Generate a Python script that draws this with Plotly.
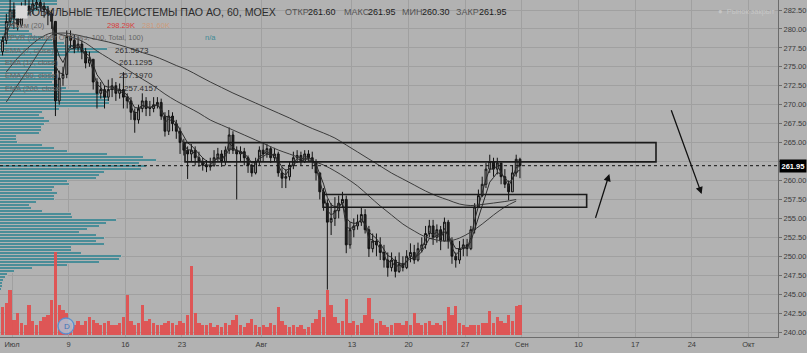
import plotly.graph_objects as go

# ---------------- data ----------------
trade_days = ["2018-06-29",
              "2018-07-02", "2018-07-03", "2018-07-04", "2018-07-05", "2018-07-06",
              "2018-07-09", "2018-07-10", "2018-07-11", "2018-07-12", "2018-07-13",
              "2018-07-16", "2018-07-17", "2018-07-18", "2018-07-19", "2018-07-20",
              "2018-07-23", "2018-07-24", "2018-07-25", "2018-07-26", "2018-07-27",
              "2018-07-30", "2018-07-31", "2018-08-01", "2018-08-02", "2018-08-03",
              "2018-08-06", "2018-08-07", "2018-08-08", "2018-08-09", "2018-08-10",
              "2018-08-13", "2018-08-14", "2018-08-15", "2018-08-16", "2018-08-17",
              "2018-08-20", "2018-08-21", "2018-08-22", "2018-08-23", "2018-08-24",
              "2018-08-27", "2018-08-28", "2018-08-29", "2018-08-30", "2018-08-31"]
bars_per_day = 3

opens = [277.0, 278.5, 281.0, 282.5, 281.5, 280.5, 282.0, 283.0, 282.5, 283.3, 283.5, 283.0,
         282.5, 282.0, 281.0, 270.5, 273.5, 274.0, 279.0, 278.5, 277.5, 278.0, 277.0, 275.5,
         276.0, 273.0, 271.5, 272.0, 271.0, 272.0, 272.5, 271.5, 272.0, 271.0, 270.5, 269.0,
         268.0, 269.5, 270.5, 269.5, 269.5, 270.0, 270.3, 268.5, 266.5, 268.5, 267.5, 266.5,
         265.0, 264.0, 263.5, 264.0, 263.0, 262.5, 262.0, 261.8, 262.0, 263.0, 263.5, 262.5,
         264.0, 266.0, 264.0, 263.5, 263.8, 263.0, 262.0, 261.0, 262.5, 264.0, 263.5, 264.2,
         263.0, 263.5, 261.0, 260.3, 260.5, 262.0, 263.0, 263.3, 262.5, 263.5, 263.0, 262.5,
         261.0, 258.5, 257.0, 254.5, 255.0, 256.0, 257.0, 257.5, 251.5, 253.5, 254.0, 254.5,
         255.5, 253.5, 251.0, 252.0, 251.5, 250.5, 249.5, 248.5, 249.5, 248.0, 249.0, 248.5,
         250.0, 250.5, 249.5, 251.0, 251.5, 253.0, 254.0, 252.5, 253.5, 252.0, 254.5, 252.0,
         250.0, 249.5, 251.0, 251.5, 251.0, 253.5, 256.5, 258.0, 259.5, 261.5, 262.5, 261.5,
         262.3, 260.5, 259.5, 258.5, 261.0, 262.8]
highs = [279.0, 282.0, 284.5, 283.5, 282.5, 283.5, 284.5, 283.8, 284.5, 284.5, 284.0, 283.5,
         283.0, 282.5, 281.0, 274.5, 275.0, 279.8, 279.8, 279.2, 279.0, 278.5, 277.5, 277.0,
         276.0, 273.5, 273.0, 272.5, 273.3, 273.5, 273.0, 272.8, 274.3, 271.5, 271.0, 269.5,
         270.0, 271.5, 271.0, 270.5, 271.0, 271.0, 270.8, 269.0, 269.3, 269.0, 268.0, 267.0,
         265.5, 264.5, 264.8, 264.5, 263.8, 263.0, 262.7, 263.0, 264.0, 264.3, 264.0, 264.5,
         267.0, 266.5, 264.5, 264.5, 264.3, 263.3, 262.2, 263.0, 264.5, 264.8, 264.8, 264.5,
         264.3, 263.8, 261.8, 261.5, 262.5, 263.8, 264.0, 263.8, 264.0, 264.0, 263.8, 262.8,
         261.0, 259.0, 257.5, 257.0, 257.8, 258.0, 258.5, 258.0, 254.5, 255.0, 255.5, 256.5,
         256.2, 254.0, 253.0, 253.0, 252.5, 251.5, 250.5, 250.5, 250.0, 250.5, 250.0, 250.8,
         251.7, 251.5, 251.8, 252.5, 254.0, 254.8, 254.8, 254.2, 254.0, 255.1, 254.8, 252.5,
         250.5, 252.0, 252.3, 252.3, 254.0, 257.0, 258.8, 260.5, 262.3, 263.4, 263.0, 263.0,
         262.3, 261.5, 260.0, 262.0, 263.4, 263.0]
lows = [276.5, 278.0, 280.5, 280.0, 279.8, 280.3, 281.5, 281.8, 282.0, 282.5, 282.3, 281.5,
        280.5, 280.0, 268.5, 270.0, 272.5, 273.5, 277.5, 276.8, 277.0, 276.0, 274.8, 275.0,
        272.0, 269.5, 270.8, 269.5, 270.5, 271.0, 270.5, 270.8, 269.5, 269.5, 268.0, 266.3,
        267.5, 269.0, 268.5, 268.5, 269.0, 269.5, 268.0, 265.8, 266.0, 266.5, 265.5, 263.5,
        263.3, 260.2, 262.5, 262.0, 261.8, 261.3, 261.1, 261.3, 261.8, 262.5, 261.8, 262.0,
        263.5, 263.5, 257.5, 262.5, 262.0, 261.0, 260.5, 260.8, 262.0, 262.5, 263.0, 262.3,
        262.5, 260.5, 259.0, 259.0, 260.0, 261.5, 262.3, 262.0, 262.3, 262.5, 261.5, 260.0,
        257.5, 256.0, 245.6, 252.8, 254.0, 255.0, 256.5, 250.4, 251.0, 252.5, 253.5, 254.0,
        253.0, 249.9, 250.5, 250.0, 249.5, 248.5, 247.3, 248.0, 247.2, 247.8, 248.0, 248.3,
        249.2, 249.0, 249.3, 250.5, 251.0, 252.5, 251.5, 251.8, 250.8, 252.0, 251.0, 249.0,
        248.5, 249.0, 250.0, 250.0, 250.8, 253.0, 256.5, 257.8, 259.0, 261.0, 260.5, 260.8,
        259.5, 259.0, 257.4, 258.5, 260.5, 260.3]
closes = [278.5, 281.0, 282.5, 281.5, 280.5, 282.0, 283.0, 282.5, 283.3, 283.5, 283.0, 282.5,
          282.0, 281.0, 270.5, 273.5, 274.0, 279.0, 278.5, 277.5, 278.0, 277.0, 275.5, 276.0,
          273.0, 271.5, 272.0, 271.0, 272.0, 272.5, 271.5, 272.0, 271.0, 270.5, 269.0, 268.0,
          269.5, 270.5, 269.5, 269.5, 270.0, 270.3, 268.5, 266.5, 268.5, 267.5, 266.5, 265.0,
          264.0, 263.5, 264.0, 263.0, 262.5, 262.0, 261.8, 262.0, 263.0, 263.5, 262.5, 264.0,
          266.0, 264.0, 263.5, 263.8, 263.0, 262.0, 261.0, 262.5, 264.0, 263.5, 264.2, 263.0,
          263.5, 261.0, 260.3, 260.5, 262.0, 263.0, 263.3, 262.5, 263.5, 263.0, 262.5, 261.0,
          258.5, 257.0, 254.5, 255.0, 256.0, 257.0, 257.5, 251.5, 253.5, 254.0, 254.5, 255.5,
          253.5, 251.0, 252.0, 251.5, 250.5, 249.5, 248.5, 249.5, 248.0, 249.0, 248.5, 250.0,
          250.5, 249.5, 251.0, 251.5, 253.0, 254.0, 252.5, 253.5, 252.0, 254.5, 252.0, 250.0,
          249.5, 251.0, 251.5, 251.0, 253.5, 256.5, 258.0, 259.5, 261.5, 262.5, 261.5, 262.3,
          260.5, 259.5, 258.5, 261.0, 262.8, 261.95]
volumes_k = [280, 320, 450, 150, 220, 120, 100, 300, 140, 100, 140, 180,
             200, 350, 830, 300, 250, 220, 120, 100, 140, 100, 140, 180,
             150, 120, 100, 120, 140, 100, 100, 120, 180, 400, 140, 100,
             120, 300, 140, 160, 120, 100, 100, 120, 140, 120, 100, 140,
             120, 200, 690, 220, 120, 100, 100, 120, 80, 100, 80, 120,
             100, 150, 200, 100, 80, 120, 160, 100, 80, 100, 80, 120,
             100, 280, 140, 100, 80, 100, 80, 100, 60, 80, 120, 160,
             250, 180, 450, 300, 180, 120, 140, 360, 120, 140, 100, 120,
             200, 370, 160, 120, 140, 100, 80, 100, 120, 120, 100, 140,
             100, 220, 120, 100, 120, 140, 100, 120, 100, 140, 280, 200,
             290, 120, 100, 80, 100, 100, 100, 120, 120, 240, 120, 180,
             140, 120, 200, 140, 290, 300]
# slow EMAs, one reading per trading day (middle of the day)
ema80_daily = [274.32, 276.16, 277.62, 278.8, 279.46, 279.2, 278.8, 278.14, 277.09, 276.16,
               275.24, 274.32, 273.39, 272.47, 271.41, 270.49, 269.7, 268.9, 267.98, 267.32,
               266.66, 266.0, 265.34, 264.68, 264.02, 263.49, 262.96, 262.57, 262.04, 261.25,
               260.32, 259.27, 257.95, 256.63, 255.44, 254.25, 253.33, 252.54, 252.14, 252.01,
               252.4, 253.2, 254.25, 255.44, 256.5, 257.29]
ema200_daily = [270.36, 272.6, 274.84, 277.22, 279.2, 279.46, 279.27, 278.94, 278.61, 278.28,
                277.88, 277.42, 276.89, 276.43, 275.83, 275.17, 274.58, 273.79, 273.0, 272.27,
                271.54, 270.88, 270.22, 269.56, 268.9, 268.24, 267.52, 266.86, 266.26, 265.6,
                264.68, 263.76, 262.83, 261.91, 260.98, 260.19, 259.4, 258.61, 257.95, 257.42,
                256.89, 256.69, 256.83, 257.02, 257.22, 257.49]
# volume profile (VPVR), rows from the top price downwards
profile_top = 283.82
profile_step = 0.396
profile_rows = [58, 58, 50, 40, 30, 25, 20, 15, 15, 20,
                30, 33, 45, 53, 65, 77, 108, 100, 67, 55,
                55, 57, 55, 55, 53, 55, 55, 53, 60, 67,
                80, 100, 108, 110, 110, 105, 60, 43, 40, 45,
                50, 45, 42, 42, 40, 17, 17, 18, 43, 55,
                68, 108, 144, 157, 140, 147, 142, 105, 100, 97,
                68, 70, 55, 53, 58, 55, 55, 37, 30, 32,
                43, 72, 73, 117, 107, 100, 88, 80, 97, 105,
                97, 105, 72, 72, 82, 122, 120, 100, 68, 33,
                15, 8, 6, 4, 3, 3, 2]
# x-axis ticks (trading-day index, 0 = 2 Jul)
tick_days = [0, 5, 10, 15, 22, 30, 35, 40, 45, 50, 55, 60, 65]
tick_labels = ["Июл", "9", "16", "23", "Авг", "13", "20", "27", "Сен", "10", "17", "24", "Окт"]
# price ticks (262.50 sits under the last-price tag)
price_ticks = [240.0, 242.5, 245.0, 247.5, 250.0, 252.5, 255.0, 257.5, 260.0, 262.5,
               265.0, 267.5, 270.0, 272.5, 275.0, 277.5, 280.0, 282.5]
# user drawings: (day0, day1, price_low, price_high)
zones = [(15.27, 56.84, 262.45, 265.0), (27.45, 50.72, 256.46, 258.15)]
# arrows: (tail_day, tail_price, head_day, head_price)
arrows = [(51.46, 254.87, 52.72, 260.85), (58.14, 269.47, 60.87, 258.2)]
last_price = 261.95
ema_legend = [("EMA (7, close)", "261.5673"), ("EMA (14, close)", "261.1295"),
              ("EMA (80, close)", "257.1970"), ("EMA (200, close)", "257.4157")]

# ---------------- derived ----------------
first_day = -1
bar_x = [first_day + j // bars_per_day + (j % bars_per_day + 0.5) / bars_per_day
         for j in range(len(closes))]
day_x = [first_day + i + 0.5 for i in range(len(trade_days))]


def ema(vals, period_hours):
    a_h = 2.0 / (period_hours + 1)
    a = 1 - (1 - a_h) ** (9 / bars_per_day)
    out, e = [], vals[0]
    for v in vals:
        e = a * v + (1 - a) * e
        out.append(e)
    return out


ema7 = ema(closes, 7)
ema14 = ema(closes, 14)
prof_y = [profile_top - profile_step * (k + 0.5) for k in range(len(profile_rows))]
price_ticktext = ["" if abs(t - last_price) < 1.0 else f"{t:.2f}" for t in price_ticks]

# ---------------- style ----------------
BG = "#b2b2b2"
GRID = "#a0a0a0"
AX = "#6c6c6c"
TXT = "#3a3a3a"
FONT = "Liberation Sans, Arial, sans-serif"
W, H = 778.0, 337.0
X0, X1 = -12 / 11.33, (778 - 12) / 11.33
Y0, Y1 = 239.34, 283.82


def px(x):
    return x / W


def py(y):
    return 1 - y / H


fig = go.Figure()

fig.add_trace(go.Bar(orientation="h", x=profile_rows, y=prof_y, xaxis="x", yaxis="y",
                     width=profile_step,
                     marker=dict(color="#4a8d98", line=dict(width=1, color=BG)),
                     hoverinfo="skip"))

fig.add_trace(go.Bar(x=bar_x, y=volumes_k, xaxis="x2", yaxis="y2", width=0.29,
                     marker=dict(color="rgba(226,78,78,0.92)", line=dict(width=0)), hoverinfo="skip"))

for vals, xs in ((ema200_daily, day_x), (ema80_daily, day_x)):
    fig.add_trace(go.Scatter(x=xs, y=vals, xaxis="x2", yaxis="y", mode="lines",
                             line=dict(color="#3c3c3c", width=1, shape="spline"), hoverinfo="skip"))

fig.add_trace(go.Candlestick(x=bar_x, open=opens, high=highs, low=lows, close=closes,
                             xaxis="x2", yaxis="y", whiskerwidth=0,
                             increasing=dict(line=dict(color="#111111", width=1), fillcolor="#9c9c9c"),
                             decreasing=dict(line=dict(color="#111111", width=1), fillcolor="#202020"),
                             hoverinfo="skip"))

for vals in (ema14, ema7):
    fig.add_trace(go.Scatter(x=bar_x, y=vals, xaxis="x2", yaxis="y", mode="lines",
                             line=dict(color="#2a2a2a", width=1), hoverinfo="skip"))

shapes = []
for d0, d1, p0, p1 in zones:
    shapes.append(dict(type="rect", xref="x2", yref="y", x0=d0, x1=d1, y0=p0, y1=p1,
                       line=dict(color="#1a1a1a", width=1.6), fillcolor="rgba(0,0,0,0)", layer="above"))
shapes.append(dict(type="line", xref="paper", yref="y", x0=0, x1=1, y0=last_price, y1=last_price,
                   line=dict(color="#111111", width=1, dash="dot"), layer="above"))
# dividend marker
shapes.append(dict(type="circle", xref="x2", yref="paper", xsizemode="pixel", ysizemode="pixel",
                   xanchor=(66 - 12) / 11.33, yanchor=py(326), x0=-8, x1=8, y0=-8, y1=8,
                   line=dict(color="#5a8fcf", width=1.3), fillcolor="rgba(175,190,208,0.85)", layer="above"))

ann = []
for t0, p0, t1, p1 in arrows:
    ann.append(dict(x=t1, y=p1, ax=t0, ay=p0, xref="x2", yref="y", axref="x2", ayref="y",
                    text="", showarrow=True, arrowhead=2, arrowsize=1.1, arrowwidth=1.3,
                    arrowcolor="#111111"))


def label(text, x, y, color=TXT, size=7.5, **kw):
    ann.append(dict(text=text, x=px(x), y=py(y), xref="paper", yref="paper", xanchor="left",
                    yanchor="middle", showarrow=False, font=dict(family=FONT, size=size, color=color), **kw))


label("D", 61.5, 326, color="#3f73b8", size=8)
# header
label("МОБИЛЬНЫЕ ТЕЛЕСИСТЕМЫ ПАО АО, 60, MOEX", 21, 12, color="#2c2c2c", size=10.6)
ann.append(dict(text="", x=px(15), y=py(12), xref="paper", yref="paper", xanchor="left", yanchor="middle",
                showarrow=False, width=9, height=10, bgcolor="#d9d9d9"))
for t, x, c in (("ОТКР", 283, "#555555"), ("261.60", 306, "#1c1c1c"),
                ("МАКС", 342, "#555555"), ("261.95", 366, "#1c1c1c"),
                ("МИН", 400, "#555555"), ("260.30", 420, "#1c1c1c"),
                ("ЗАКР", 454, "#555555"), ("261.95", 477, "#1c1c1c")):
    label(t, x, 12, color=c, size=9)
label("●  Рынок закрыт", 716, 11, color="#c6c6c6", size=7.5)
# indicator legend
LEG = "#666666"
label("Объем (20)", 3, 25, color=LEG)
label("298.29K", 105, 25, color="#d63a3a")
label("281.60K", 140, 25, color="rgba(230,130,60,0.5)")
label("VPVR (Number Of Rows, 100, Total, 100)", 3, 37, color=LEG)
label("n/a", 203, 37, color="#3f8a96")
for i, (name, val) in enumerate(ema_legend):
    yy = 50 + i * 12.7
    label(name, 3, yy, color=LEG)
    label(val, 113 + (4 if i else 0) + (5 if i == 3 else 0), yy, color="#2e2e2e", size=8)
# last price tag
ann.append(dict(text="<b>261.95</b>", x=1.0, xshift=1, y=last_price, xref="paper", yref="y",
                xanchor="left", yanchor="middle", showarrow=False, bgcolor="#000000", borderpad=1.5,
                font=dict(family=FONT, size=7.5, color="#ffffff")))

fig.update_layout(
    width=807, height=353, margin=dict(l=0, r=29, t=0, b=16),
    paper_bgcolor=BG, plot_bgcolor=BG, showlegend=False, hovermode=False,
    font=dict(family=FONT, color=TXT),
    bargap=0,
    xaxis=dict(domain=[0, 1], range=[0, W], visible=False, fixedrange=True),
    xaxis2=dict(overlaying="x", anchor="y", side="bottom", range=[X0, X1],
                tickmode="array", tickvals=tick_days, ticktext=tick_labels,
                showgrid=True, gridcolor=GRID, gridwidth=1, zeroline=False,
                showline=True, linecolor=AX, ticks="", tickfont=dict(size=7.5, color=TXT),
                rangeslider=dict(visible=False)),
    yaxis=dict(side="right", anchor="x", range=[Y0, Y1], tickmode="array",
               tickvals=price_ticks, ticktext=price_ticktext,
               showgrid=True, gridcolor=GRID, gridwidth=1, zeroline=False,
               showline=True, linecolor=AX, ticks="outside", ticklen=3, tickcolor=AX,
               tickfont=dict(size=7.5, color=TXT)),
    yaxis2=dict(overlaying="y", range=[-20, 3350], visible=False),
    shapes=shapes, annotations=ann,
)

fig.write_html("out.html")
